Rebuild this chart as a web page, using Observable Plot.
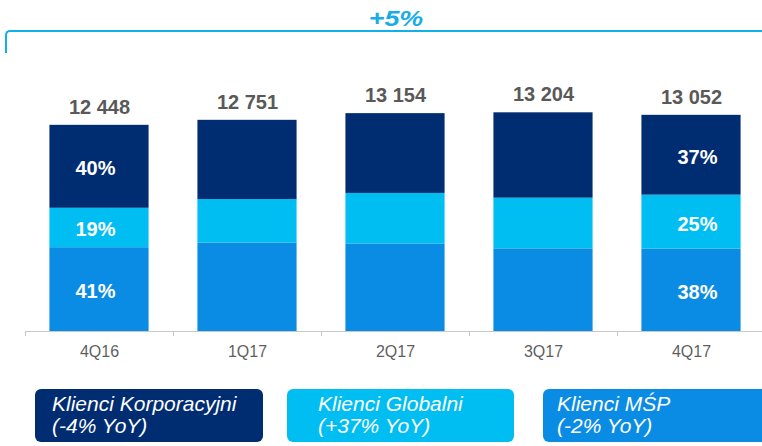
<!DOCTYPE html>
<html>
<head>
<meta charset="utf-8">
<script src="https://cdn.jsdelivr.net/npm/d3@7"></script>
<script src="https://cdn.jsdelivr.net/npm/@observablehq/plot@0.6"></script>
<style>
  html, body { margin: 0; padding: 0; background: #fff; overflow: hidden; }
  #page { position: relative; width: 762px; height: 446px; font-family: "Liberation Sans", Arial, sans-serif; }
  #chart { position: absolute; left: 0; top: 0; }
  #growth { position: absolute; left: 336px; top: 8px; width: 120px; text-align: center; font-size: 22px; line-height: 22px; font-weight: bold; font-style: italic; color: #19ACE6; z-index: 2; transform: scaleX(1.22); transform-origin: 50% 50%; }
  #bracket { position: absolute; left: 5px; top: 30px; width: 800px; height: 23px; border-top: 2px solid #0FB1E8; border-left: 2px solid #0FB1E8; border-top-left-radius: 5px; box-sizing: border-box; z-index: 2; }
  .legend-box { position: absolute; top: 389px; height: 53px; border-radius: 6px; box-sizing: border-box; color: #fff; font-style: italic; font-size: 21px; line-height: 22px; padding-top: 4px; white-space: nowrap; }
</style>
</head>
<body>
<div id="page">
  <div id="chart"></div>
  <div id="growth"></div>
  <div id="bracket"></div>
  <div id="legend"></div>
</div>
<script>
// ---- data ----
const quarters = ["4Q16", "1Q17", "2Q17", "3Q17", "4Q17"];
const korporacyjni = [5008, 4785, 4818, 5155, 4820];
const globalni = [2380, 2627, 3051, 3060, 3260];
const msp = [5060, 5339, 5285, 4989, 4972];
const seriesNames = ["Klienci Korporacyjni", "Klienci Globalni", "Klienci MŚP"];
const seriesYoY = ["(-4% YoY)", "(+37% YoY)", "(-2% YoY)"];
const seriesColors = ["#002D72", "#00BEF2", "#0A8CE4"];
const percentQuarters = ["4Q16", "4Q17"];
const growthLabel = "+5%";

// ---- build table (stack bottom -> top: MŚP, Globalni, Korporacyjni) ----
const stackOrder = [
  {name: seriesNames[2], values: msp},
  {name: seriesNames[1], values: globalni},
  {name: seriesNames[0], values: korporacyjni}
];
const rows = [];
const totals = [];
quarters.forEach((q, i) => {
  const total = d3.sum(stackOrder, s => s.values[i]);
  totals.push({q, i, total});
  let acc = 0;
  for (const s of stackOrder) {
    const v = s.values[i];
    rows.push({q, i, series: s.name, value: v, y1: acc, y2: acc + v, total});
    acc += v;
  }
});
const fmt = d3.formatLocale({decimal: ",", thousands: " ", grouping: [3], currency: ["", ""]}).format(",d");
const centers = quarters.map((q, i) => i);
const boundaries = quarters.map((q, i) => i - 0.5).concat([quarters.length - 0.5]);
const halfBar = 0.335;
const pctText = d => Math.round(d.value / d.total * 100) + "%";

const chart = Plot.plot({
  width: 762,
  height: 370,
  marginLeft: 25,
  marginRight: 0,
  marginTop: 66,
  marginBottom: 39,
  style: {fontFamily: "Liberation Sans, Arial, sans-serif", background: "transparent", overflow: "visible"},
  x: {type: "linear", domain: [-0.5, quarters.length - 0.5], range: [25, 765]},
  y: {domain: [0, 16000], axis: null},
  color: {domain: seriesNames, range: seriesColors},
  marks: [
    Plot.rectY(rows, {x1: d => d.i - halfBar, x2: d => d.i + halfBar, y1: "y1", y2: "y2", fill: "series"}),
    Plot.ruleY([0], {stroke: "#C8C8C8", strokeWidth: 1.2}),
    Plot.axisX({ticks: boundaries, tickFormat: () => "", tickSize: 5, stroke: "#C8C8C8", label: null}),
    Plot.axisX({ticks: centers, tickFormat: i => quarters[i], tickSize: 0, tickPadding: 14, fontSize: 16, fill: "#5F5F5F", label: null}),
    Plot.text(totals, {x: "i", y: "total", text: d => fmt(d.total), dy: -18, fontSize: 20, fontWeight: "bold", fill: "#595959"}),
    Plot.text(rows.filter(d => d.q === percentQuarters[0]), {x: "i", y: d => (d.y1 + d.y2) / 2, text: pctText, dx: -4, dy: 2, fontSize: 20, fontWeight: "bold", fill: "white"}),
    Plot.text(rows.filter(d => d.q === percentQuarters[1]), {x: "i", y: d => (d.y1 + d.y2) / 2, text: pctText, dx: 6, dy: 2, fontSize: 20, fontWeight: "bold", fill: "white"})
  ]
});
document.getElementById("chart").appendChild(chart);
document.getElementById("growth").textContent = growthLabel;

// ---- legend ----
const boxLayout = [
  {left: 35, width: 228, pad: 17},
  {left: 287, width: 227, pad: 31},
  {left: 543, width: 240, pad: 14}
];
const legend = document.getElementById("legend");
seriesNames.forEach((name, k) => {
  const b = document.createElement("div");
  b.className = "legend-box";
  b.style.left = boxLayout[k].left + "px";
  b.style.width = boxLayout[k].width + "px";
  b.style.paddingLeft = boxLayout[k].pad + "px";
  b.style.background = seriesColors[k];
  const l1 = document.createElement("div"); l1.textContent = name;
  const l2 = document.createElement("div"); l2.textContent = seriesYoY[k];
  b.appendChild(l1); b.appendChild(l2);
  legend.appendChild(b);
});
</script>
</body>
</html>
